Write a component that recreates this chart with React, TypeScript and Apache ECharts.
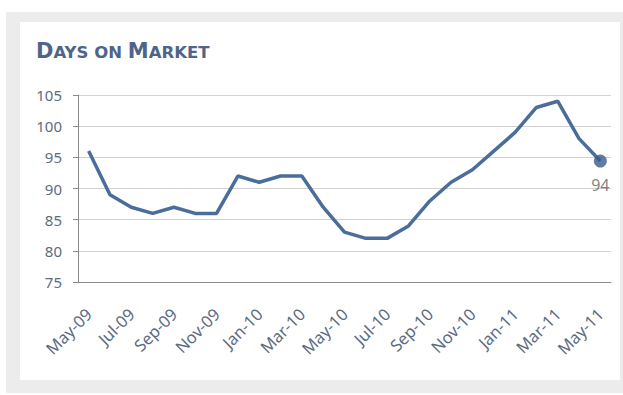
import React, { useEffect, useRef } from "react";
import * as echarts from "echarts";

const months = [
  "May-09", "Jun-09", "Jul-09", "Aug-09", "Sep-09", "Oct-09", "Nov-09", "Dec-09",
  "Jan-10", "Feb-10", "Mar-10", "Apr-10", "May-10", "Jun-10", "Jul-10", "Aug-10",
  "Sep-10", "Oct-10", "Nov-10", "Dec-10", "Jan-11", "Feb-11", "Mar-11", "Apr-11", "May-11",
];
const daysOnMarket = [
  96, 89, 87, 86, 87, 86, 86, 92, 91, 92, 92, 87, 83, 82, 82, 84, 88, 91, 93, 96, 99, 103, 104, 98, 94.4,
];
const yTicks = { min: 75, max: 105, interval: 5 };

export default function App() {
  const ref = useRef<HTMLDivElement>(null);
  useEffect(() => {
    const chart = echarts.init(ref.current!, undefined, { renderer: "svg" });
    const last = daysOnMarket.length - 1;
    const labelColor = "#5d6b82";
    chart.setOption({
      animation: false,
      backgroundColor: "#ffffff",
      graphic: [
        { type: "rect", shape: { x: 6, y: 12, width: 617, height: 381 }, style: { fill: "#ececec" }, z: -10 },
        { type: "rect", shape: { x: 20, y: 22, width: 600, height: 358 }, style: { fill: "#ffffff" }, z: -9 },
      ],
      title: {
        left: 36,
        top: 39,
        padding: 0,
        text: "{b|D}{s|AYS ON }{b|M}{s|ARKET}",
        textStyle: {
          rich: {
            b: { fontSize: 21, fontWeight: "bold", color: "#4f6489", fontFamily: "DejaVu Sans", verticalAlign: "bottom", lineHeight: 22 },
            s: { fontSize: 16.5, fontWeight: "bold", color: "#4f6489", fontFamily: "DejaVu Sans", verticalAlign: "bottom", lineHeight: 22 },
          },
        },
      },
      grid: { left: 78, top: 95, right: 12, bottom: 113, containLabel: false },
      xAxis: {
        type: "category",
        data: months,
        boundaryGap: true,
        axisLine: { lineStyle: { color: "#8a8a8a", width: 1 } },
        axisTick: { interval: 1, length: 6, lineStyle: { color: "#8a8a8a" } },
        axisLabel: {
          interval: 1,
          rotate: 45,
          color: labelColor,
          fontSize: 16.5,
          fontFamily: "Noto Sans",
          margin: 29,
        },
        splitLine: { show: false },
      },
      yAxis: {
        type: "value",
        min: yTicks.min,
        max: yTicks.max,
        interval: yTicks.interval,
        axisLine: { show: true, lineStyle: { color: "#8a8a8a", width: 1 } },
        axisTick: { show: true, length: 5, lineStyle: { color: "#8a8a8a" } },
        axisLabel: { color: labelColor, fontSize: 15, fontFamily: "Noto Sans", margin: 16 },
        splitLine: { lineStyle: { color: "#d2d2d2", width: 1 } },
      },
      series: [
        {
          type: "line",
          data: daysOnMarket,
          symbol: "none",
          smooth: false,
          lineStyle: { color: "#4a6d9c", width: 3.5 },
          z: 2,
        },
        {
          type: "scatter",
          data: [[months[last], daysOnMarket[last]]],
          symbol: "circle",
          symbolSize: 13,
          itemStyle: { color: "#3a5b8c" },
          label: {
            show: true,
            position: "bottom",
            distance: 9,
            color: "#5f5f5f",
            fontSize: 16,
            fontFamily: "Noto Sans",
            formatter: (p: any) => String(Math.round(p.value[1])),
          },
          z: 3,
        },
      ],
    });
    return () => chart.dispose();
  }, []);
  return (
    <div
      ref={ref}
      style={{ position: "absolute", left: 0, top: 0, width: 623, height: 395 }}
    />
  );
}
